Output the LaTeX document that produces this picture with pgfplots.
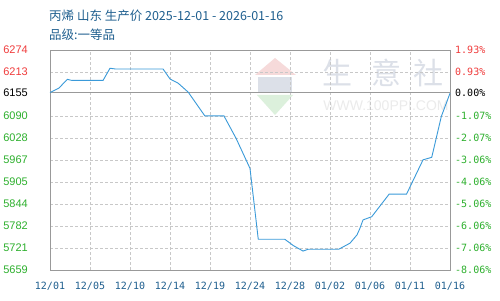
\documentclass[border=0pt]{standalone}
\usepackage{pgfplots}
\pgfplotsset{compat=1.18}
\usepackage{fontspec}
\setmainfont{Liberation Sans}
\newfontfamily\cjk{Noto Sans CJK SC}
\newfontfamily\mono{DejaVu Sans Mono}
\definecolor{titleblue}{HTML}{1F5F8F}
\definecolor{lineblue}{HTML}{3A9AD9}
\definecolor{gridgray}{HTML}{C8C8C8}
\definecolor{framegray}{HTML}{999999}
\definecolor{upred}{HTML}{F03C3C}
\definecolor{downgreen}{HTML}{2DB02D}
\definecolor{wmblue}{HTML}{DCE0E8}
\definecolor{wmred}{HTML}{F6DADA}
\definecolor{wmgreen}{HTML}{DCF0DC}
\definecolor{wmgray}{HTML}{EBEBEB}
\begin{document}
\begin{tikzpicture}
\useasboundingbox (0pt,0pt) rectangle (500pt,300pt);
\fill[white] (0pt,0pt) rectangle (500pt,300pt);
% watermark
\fill[wmred] (255pt,225pt) -- (275pt,242pt) -- (296pt,225pt) -- cycle;
\fill[wmblue] (258pt,208pt) rectangle (292pt,223pt);
\fill[wmgreen] (257pt,205pt) -- (293pt,205pt) -- (275pt,185pt) -- cycle;
\node[text=wmblue, font=\cjk\fontsize{30}{32}\selectfont] at (337pt,227pt) {生};
\node[text=wmblue, font=\cjk\fontsize{30}{32}\selectfont] at (386pt,227pt) {意};
\node[text=wmblue, font=\cjk\fontsize{30}{32}\selectfont] at (428pt,227pt) {社};
\node[text=wmgray, font=\fontsize{14}{16}\selectfont] at (386pt,194pt) {WWW.100PPI.COM};
% titles
\node[anchor=west, inner sep=0pt, text=titleblue, font=\cjk\fontsize{12.5}{14}\selectfont] at (49pt,284pt) {丙烯 山东 生产价 2025-12-01 - 2026-01-16};
\node[anchor=west, inner sep=0pt, text=titleblue, font=\cjk\fontsize{12.5}{14}\selectfont] at (49pt,265pt) {品级:一等品};
\begin{axis}[
  at={(50pt,30pt)}, anchor=south west,
  scale only axis, width=400pt, height=220pt,
  xmin=0, xmax=46, ymin=5659, ymax=6274,
  axis line style={framegray, line width=0.9pt},
  major tick length=0pt,
  xtick={0,4.6,9.2,13.8,18.4,23,27.6,32.2,36.8,41.4,46},
  xticklabels={12/01,12/05,12/10,12/14,12/19,12/24,12/28,01/02,01/06,01/11,01/16},
  xticklabel style={anchor=north, inner sep=0pt, yshift=-12pt, text=titleblue, font=\mono\fontsize{10}{12}\selectfont},
  ytick={5659,5720.5,5782,5843.5,5905,5966.5,6028,6089.5,6155,6212.5,6274},
  yticklabels={\textcolor{downgreen}{5659},\textcolor{downgreen}{5721},\textcolor{downgreen}{5782},\textcolor{downgreen}{5844},\textcolor{downgreen}{5905},\textcolor{downgreen}{5967},\textcolor{downgreen}{6028},\textcolor{downgreen}{6090},\textcolor{black}{6155},\textcolor{upred}{6213},\textcolor{upred}{6274}},
  yticklabel style={anchor=east, inner sep=0pt, xshift=-22pt, font=\fontsize{11}{13}\selectfont},
  grid=major,
  major grid style={gridgray, line width=0.8pt, dash pattern=on 3pt off 2pt},
  clip=false,
]
\addplot[framegray, line width=1.3pt] coordinates {(0,6155) (46,6155)};
\addplot[lineblue, line width=0.9pt] coordinates {
(0,6155) (1,6167) (2,6192) (2.5,6189) (6.1,6189) (6.9,6223) (7.5,6221) (13,6221)
(13.8,6193) (14.75,6181) (15.9,6156) (17.8,6090) (20,6090) (21.4,6027) (23,5943)
(23.2,5901) (23.6,5818) (23.95,5745) (27,5745) (28,5727) (29.1,5712) (29.7,5717)
(33.2,5717) (34.5,5734) (35.3,5757) (35.6,5773) (36,5799) (37,5808) (39,5871)
(41,5871) (42.9,5967) (43.9,5974) (45,6088) (46,6153)
};
\end{axis}
\begin{axis}[
  at={(50pt,30pt)}, anchor=south west,
  scale only axis, width=400pt, height=220pt,
  xmin=0, xmax=46, ymin=5659, ymax=6274,
  axis x line=none, axis y line*=right,
  y axis line style={draw=none},
  major tick length=0pt,
  ytick={5659,5720.5,5782,5843.5,5905,5966.5,6028,6089.5,6155,6212.5,6274},
  yticklabels={\textcolor{downgreen}{-8.06\%},\textcolor{downgreen}{-7.06\%},\textcolor{downgreen}{-6.06\%},\textcolor{downgreen}{-5.06\%},\textcolor{downgreen}{-4.06\%},\textcolor{downgreen}{-3.06\%},\textcolor{downgreen}{-2.07\%},\textcolor{downgreen}{-1.07\%},\textcolor{black}{0.00\%},\textcolor{upred}{0.93\%},\textcolor{upred}{1.93\%}},
  yticklabel style={anchor=west, inner sep=0pt, xshift=5pt, font=\mono\fontsize{10}{12}\selectfont},
]
\end{axis}
\end{tikzpicture}
\end{document}
